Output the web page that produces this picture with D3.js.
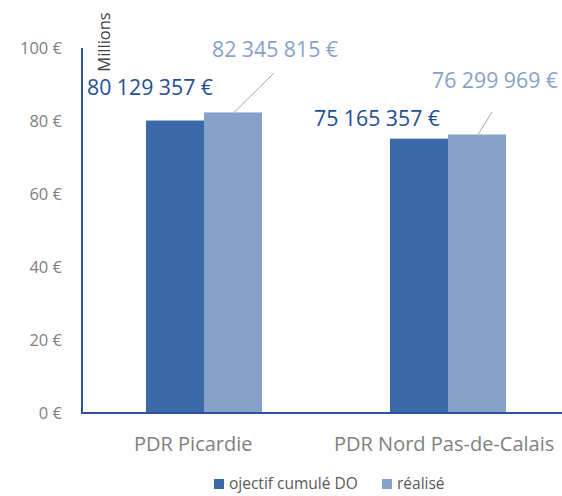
<!DOCTYPE html>
<html lang="fr">
<head>
<meta charset="UTF-8">
<script src="https://d3js.org/d3.v7.min.js"></script>
<style>
  body { margin: 0; background: #fff; }
  svg { font-family: "Open Sans", sans-serif; }
</style>
</head>
<body>
<svg width="562" height="496"></svg>
<script>
  // chart data
  var categories = ["PDR Picardie", "PDR Nord Pas-de-Calais"];
  var series = ["ojectif cumulé DO", "réalisé"];
  var objectif = [80129357, 75165357];
  var realise = [82345815, 76299969];
  var yTicks = [0, 20, 40, 60, 80, 100];

  var colors = ["#3b69a9", "#86a2ca"];
  var labelColors = ["#1f4e99", "#86a2ca"];

  var svg = d3.select("svg");
  var mLeft = 82, mTop = 48, mBottom = 413, mRight = 570;

  var x = d3.scaleBand().domain(categories).range([mLeft, mRight]);
  var xs = d3.scaleBand().domain(series).range([0, 116]);
  var y = d3.scaleLinear().domain([0, 100]).range([mBottom, mTop]);

  var rows = categories.map(function (c, i) {
    return { cat: c, vals: [objectif[i], realise[i]] };
  });

  // y axis ticks
  svg.append("g").selectAll("text")
    .data(yTicks).enter().append("text")
    .attr("x", 62).attr("y", d => y(d) + 6)
    .attr("text-anchor", "end")
    .attr("font-size", 16.5).attr("fill", "#7f7f7f")
    .text(d => d + " €");

  svg.append("text")
    .attr("transform", "translate(110,42) rotate(-90)")
    .attr("text-anchor", "middle")
    .attr("font-size", 16.5).attr("fill", "#404040")
    .text("Millions");

  // bars
  var g = svg.append("g").selectAll("g")
    .data(rows).enter().append("g")
    .attr("transform", d => "translate(" + (x(d.cat) + x.bandwidth() / 2 - 58) + ",0)");

  g.selectAll("rect")
    .data(d => d.vals.map((v, j) => ({ s: series[j], v: v / 1e6, j: j })))
    .enter().append("rect")
    .attr("x", d => xs(d.s))
    .attr("y", d => y(d.v))
    .attr("width", xs.bandwidth())
    .attr("height", d => mBottom - y(d.v))
    .attr("fill", d => colors[d.j]);

  // axes lines
  svg.append("line").attr("x1", mLeft).attr("x2", mLeft).attr("y1", mTop).attr("y2", mBottom + 1)
    .attr("stroke", "#2c52a0").attr("stroke-width", 2);
  svg.append("line").attr("x1", mLeft).attr("x2", 562).attr("y1", mBottom).attr("y2", mBottom)
    .attr("stroke", "#2c52a0").attr("stroke-width", 2);

  // category labels (Nord label runs past the right edge, as in the original)
  var catShift = [-70, -114];
  svg.append("g").selectAll("text")
    .data(categories).enter().append("text")
    .attr("x", (d, i) => x(d) + x.bandwidth() / 2 + catShift[i])
    .attr("y", 451)
    .attr("font-size", 20).attr("fill", "#7f7f7f")
    .text(d => d);

  // data labels
  function fmt(v) { return d3.format(",")(v).replace(/,/g, " ") + " €"; }
  var labelPos = [
    [{ dx: -117, dy: 95 }, { dx: 8, dy: 57 }],
    [{ dx: -134, dy: 126 }, { dx: -16, dy: 88 }]
  ];
  var leaders = [
    { x0: 30, x1: 70, y1: 73 },
    { x0: 30, x1: 44, y1: 112 }
  ];
  rows.forEach(function (r, i) {
    var cx = x(r.cat) + x.bandwidth() / 2;
    r.vals.forEach(function (v, j) {
      svg.append("text")
        .attr("x", cx + labelPos[i][j].dx)
        .attr("y", labelPos[i][j].dy)
        .attr("font-size", 21).attr("textLength", 126).attr("lengthAdjust", "spacingAndGlyphs")
        .attr("fill", labelColors[j])
        .text(fmt(v));
    });
    var l = leaders[i];
    svg.append("line")
      .attr("x1", cx + l.x0).attr("y1", y(r.vals[1] / 1e6))
      .attr("x2", cx + l.x1).attr("y2", l.y1)
      .attr("stroke", "#a6a6a6").attr("stroke-width", 1);
  });

  // legend
  var legX = [214, 382];
  var leg = svg.append("g").selectAll("g")
    .data(series).enter().append("g")
    .attr("transform", (d, i) => "translate(" + legX[i] + ",479)");
  leg.append("rect").attr("width", 10).attr("height", 10).attr("fill", (d, i) => colors[i]);
  leg.append("text").attr("x", 15).attr("y", 10)
    .attr("font-size", 15.5).attr("fill", "#595959").text(d => d);
</script>
</body>
</html>
